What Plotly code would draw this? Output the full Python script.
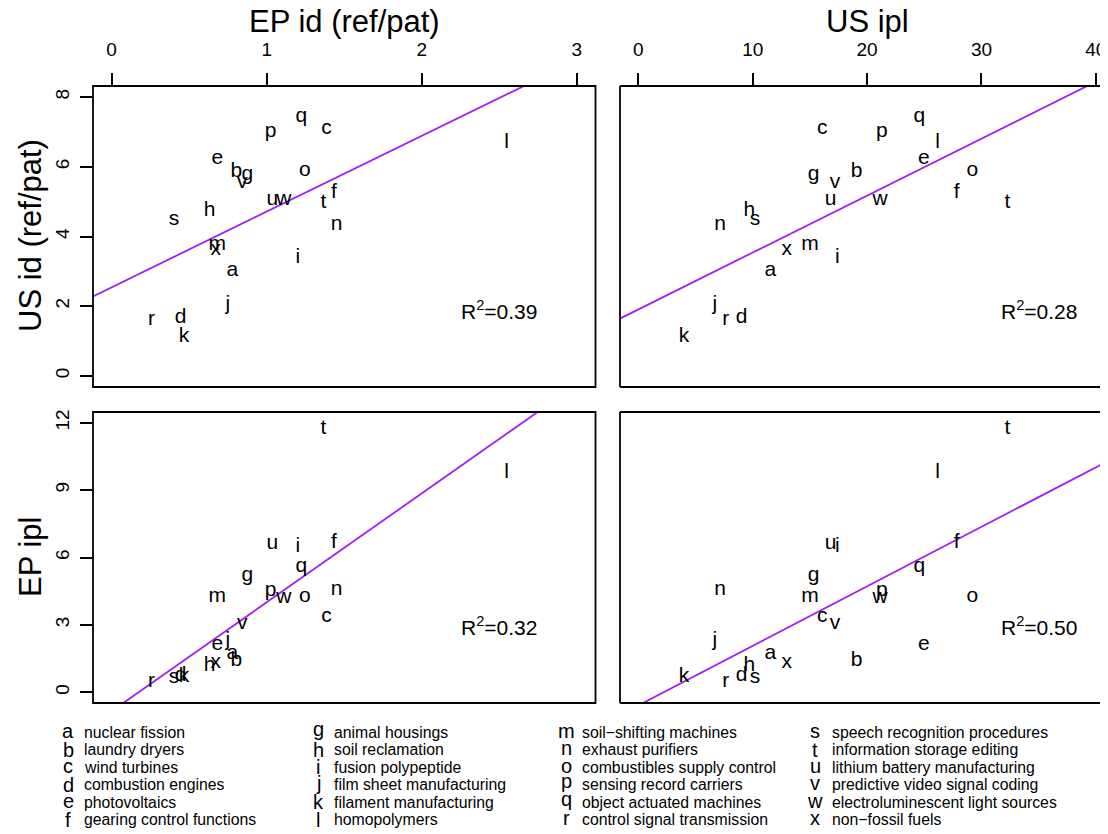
import numpy as np
import plotly.graph_objects as go

# ---------------- data ----------------
letters = list("abcdefghijklmnopqrstuvwx")

descriptions = [
    "nuclear fission", "laundry dryers", "wind turbines", "combustion engines",
    "photovoltaics", "gearing control functions",
    "animal housings", "soil reclamation", "fusion polypeptide",
    "film sheet manufacturing", "filament manufacturing", "homopolymers",
    "soil\u2212shifting machines", "exhaust purifiers", "combustibles supply control",
    "sensing record carriers", "object actuated machines", "control signal transmission",
    "speech recognition procedures", "information storage editing",
    "lithium battery manufacturing", "predictive video signal coding",
    "electroluminescent light sources", "non\u2212fossil fuels",
]

ep_id = [0.778, 0.804, 1.386, 0.445, 0.681, 1.433, 0.875, 0.632, 1.201, 0.750,
         0.466, 2.547, 0.681, 1.451, 1.246, 1.025, 1.223, 0.258, 0.402, 1.365,
         1.036, 0.843, 1.111, 0.671]
us_id = [3.03, 5.85, 7.10, 1.67, 6.24, 5.25, 5.78, 4.73, 3.39, 2.05,
         1.13, 6.69, 3.75, 4.35, 5.90, 7.00, 7.43, 1.60, 4.47, 4.97,
         5.06, 5.54, 5.06, 3.61]
us_ipl = [11.54, 19.09, 16.08, 9.04, 24.97, 27.83, 15.33, 9.70, 17.40, 6.70,
          3.99, 26.17, 15.01, 7.14, 29.20, 21.30, 24.56, 7.64, 10.20, 32.26,
          16.81, 17.19, 21.13, 12.97]
ep_ipl = [1.71, 1.39, 3.37, 0.74, 2.13, 6.67, 5.20, 1.19, 6.49, 2.28,
          0.70, 9.76, 4.26, 4.56, 4.26, 4.51, 5.57, 0.45, 0.64, 11.74,
          6.61, 3.05, 4.21, 1.30]

r2_labels = ["0.39", "0.28", "0.32", "0.50"]

ep_id_ticks = [0, 1, 2, 3]
us_ipl_ticks = [0, 10, 20, 30, 40]
us_id_ticks = [0, 2, 4, 6, 8]
ep_ipl_ticks = [0, 3, 6, 9, 12]

x_titles = ["EP id (ref/pat)", "US ipl"]
y_titles = ["US id (ref/pat)", "EP ipl"]

# ---------------- layout constants ----------------
# the page body has an 8px margin, so the figure starts at (8, 8) in the window
OFF = 8
W, H = 1100, 826
FONT = "Liberation Sans, Arial, Helvetica, sans-serif"
PURPLE = "#A020F0"


def fx(px):
    return (px - OFF) / W


def fy(py):
    return 1 - (py - OFF) / H


XL_DOM = [fx(93), fx(595.5)]
XR_DOM = [fx(620), 1.0]
YT_DOM = [fy(387), fy(86)]
YB_DOM = [fy(703), fy(412)]

XL_RANGE = [-0.12, 3.12]
XR_RANGE = [-1.6, 41.06]
YT_RANGE = [-0.32, 8.32]
YB_RANGE = [-0.48, 12.48]

fig = go.Figure()

panels = [
    # xaxis, yaxis, xdata, ydata, xrange, r2 label pos (data coords)
    ("x", "y", ep_id, us_id, XL_RANGE, (2.5, 1.9)),
    ("x2", "y2", us_ipl, us_id, XR_RANGE, (35.0, 1.9)),
    ("x3", "y3", ep_id, ep_ipl, XL_RANGE, (2.5, 2.95)),
    ("x4", "y4", us_ipl, ep_ipl, XR_RANGE, (35.0, 2.95)),
]

annotations = []
for k, (xa, ya, xd, yd, xr, r2pos) in enumerate(panels):
    xd = np.asarray(xd)
    yd = np.asarray(yd)
    slope, intercept = np.polyfit(xd, yd, 1)
    xs = np.array(xr)
    fig.add_trace(go.Scatter(
        x=xs, y=intercept + slope * xs, mode="lines",
        line=dict(color=PURPLE, width=1.8), xaxis=xa, yaxis=ya,
        hoverinfo="skip", showlegend=False))
    fig.add_trace(go.Scatter(
        x=xd, y=yd, mode="text", text=letters, textposition="middle center",
        textfont=dict(family=FONT, size=21, color="black"),
        xaxis=xa, yaxis=ya, showlegend=False, cliponaxis=True))
    annotations.append(dict(
        x=r2pos[0], y=r2pos[1], xref=xa, yref=ya,
        text="R<sup>2</sup>=" + r2_labels[k], showarrow=False,
        font=dict(family=FONT, size=21, color="black"),
        xanchor="center", yanchor="middle"))

# panel borders
shapes = []
for xa, ya in [("x", "y"), ("x3", "y3")]:
    shapes.append(dict(type="rect", xref=xa + " domain", yref=ya + " domain",
                       x0=0, x1=1, y0=0, y1=1,
                       line=dict(color="black", width=1.8)))
for xa, ya in [("x2", "y2"), ("x4", "y4")]:
    for (x0, y0, x1, y1) in [(0, 0, 0, 1), (0, 0, 1, 0), (0, 1, 1, 1)]:
        shapes.append(dict(type="line", xref=xa + " domain", yref=ya + " domain",
                           x0=x0, x1=x1, y0=y0, y1=y1,
                           line=dict(color="black", width=1.8)))

# axis titles
for txt, px in zip(x_titles, [344, 867]):
    annotations.append(dict(x=fx(px), y=fy(21), xref="paper", yref="paper",
                            text=txt, showarrow=False,
                            font=dict(family=FONT, size=31, color="black"),
                            xanchor="center", yanchor="middle"))
for txt, py in zip(y_titles, [236, 557]):
    annotations.append(dict(x=fx(30), y=fy(py), xref="paper", yref="paper",
                            text=txt, showarrow=False, textangle=-90,
                            font=dict(family=FONT, size=31, color="black"),
                            xanchor="center", yanchor="middle"))

# legend (4 columns x 6 rows)
LEG_LETTER_X = [68, 318, 566, 815]
LEG_TEXT_X = [82, 332, 580, 830]
LEG_ROW0 = 732.5
LEG_DY = 17.4
asc = set("bdfhiklt")
desc_l = set("gpq")
for i, (lt, ds) in enumerate(zip(letters, descriptions)):
    col, row = divmod(i, 6)
    yc = LEG_ROW0 + row * LEG_DY
    off = 0.0
    if lt in desc_l:
        off = -3.5
    elif lt == "j":
        off = -1.8
    elif lt not in asc:
        off = -1.5
    annotations.append(dict(x=fx(LEG_LETTER_X[col]), y=fy(yc + off), xref="paper",
                            yref="paper", text=lt, showarrow=False,
                            font=dict(family=FONT, size=20, color="black"),
                            xanchor="center", yanchor="middle"))
    annotations.append(dict(x=fx(LEG_TEXT_X[col]), y=fy(yc), xref="paper",
                            yref="paper", text=ds, showarrow=False,
                            font=dict(family=FONT, size=15.8, color="black"),
                            xanchor="left", yanchor="middle"))

common = dict(showgrid=False, zeroline=False, showline=False,
              tickcolor="black", tickwidth=1.5, ticklen=12,
              tickfont=dict(family=FONT, size=19, color="black"))

fig.update_layout(
    width=W, height=H, template="none",
    margin=dict(l=0, r=0, t=0, b=0, pad=0),
    paper_bgcolor="white", plot_bgcolor="white",
    showlegend=False,
    font=dict(family=FONT, color="black"),
    xaxis=dict(domain=XL_DOM, range=XL_RANGE, anchor="y", side="top",
               tickvals=ep_id_ticks, ticks="outside", ticklabelstandoff=9,
               **common),
    yaxis=dict(domain=YT_DOM, range=YT_RANGE, anchor="x",
               tickvals=us_id_ticks, ticks="outside", tickangle=-90,
               ticklabelstandoff=3, **common),
    xaxis2=dict(domain=XR_DOM, range=XR_RANGE, anchor="y2", side="top",
                tickvals=us_ipl_ticks, ticks="outside", ticklabelstandoff=9,
                **common),
    yaxis2=dict(domain=YT_DOM, range=YT_RANGE, anchor="x2",
                showticklabels=False, ticks="", **common),
    xaxis3=dict(domain=XL_DOM, range=XL_RANGE, anchor="y3",
                showticklabels=False, ticks="", **common),
    yaxis3=dict(domain=YB_DOM, range=YB_RANGE, anchor="x3",
                tickvals=ep_ipl_ticks, ticks="outside", tickangle=-90,
                ticklabelstandoff=3, **common),
    xaxis4=dict(domain=XR_DOM, range=XR_RANGE, anchor="y4",
                showticklabels=False, ticks="", **common),
    yaxis4=dict(domain=YB_DOM, range=YB_RANGE, anchor="x4",
                showticklabels=False, ticks="", **common),
    shapes=shapes,
    annotations=annotations,
)

fig.write_html("out.html")
